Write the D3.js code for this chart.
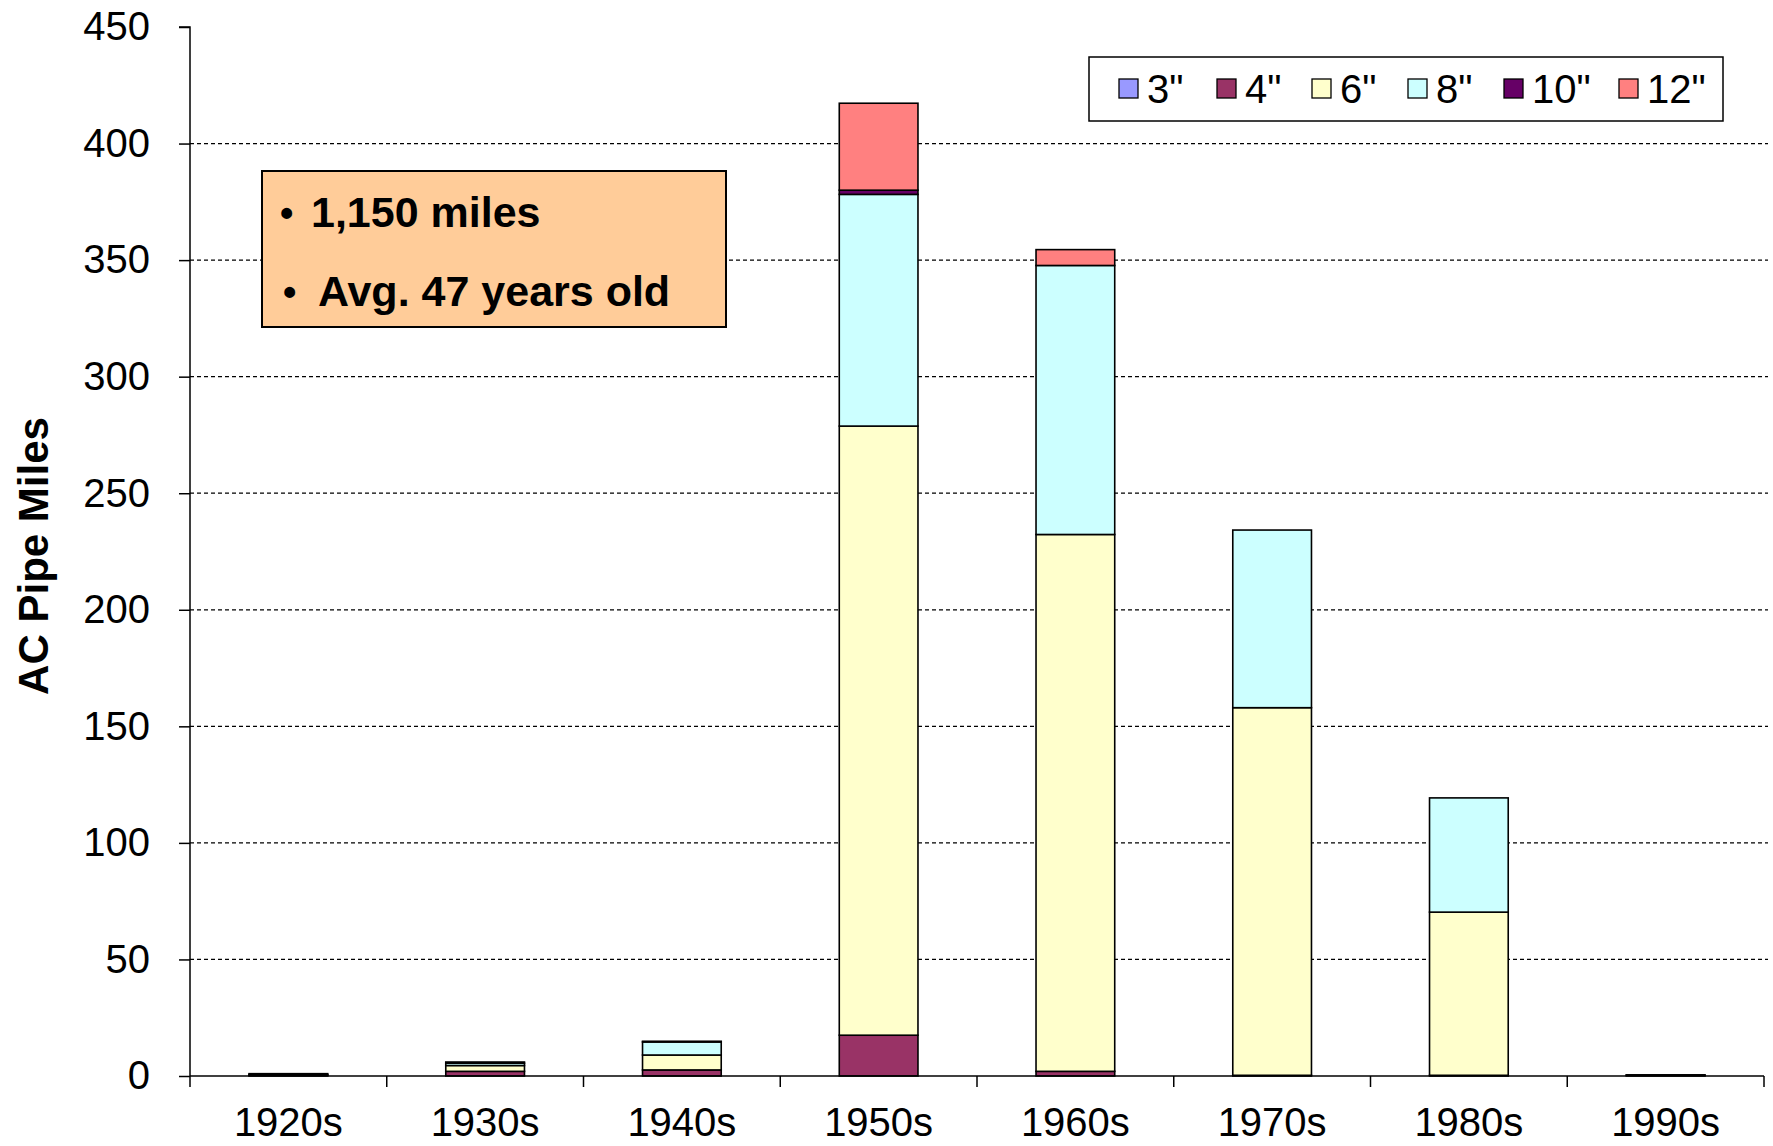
<!DOCTYPE html>
<html><head><meta charset="utf-8">
<script src="https://cdn.jsdelivr.net/npm/d3@7"></script>
<style>
html,body{margin:0;padding:0;background:#fff;}
text{font-family:"Liberation Sans",Arial,sans-serif;}
</style></head>
<body><svg id="c" width="1773" height="1146"></svg>
<script>
const categories = ["1920s","1930s","1940s","1950s","1960s","1970s","1980s","1990s"];
const seriesNames = ['3"','4"','6"','8"','10"','12"'];
const s3  = [0, 0, 0, 0, 0, 0, 0, 0];
const s4  = [0.3, 2, 2.6, 17.5, 2, 0.3, 0.3, 0];
const s6  = [0.3, 2.5, 6.4, 261.3, 230.3, 157.7, 70, 0.3];
const s8  = [0, 1, 5.6, 99.4, 115.4, 76.2, 49, 0];
const s10 = [0.4, 0.5, 0.3, 1.8, 0, 0, 0, 0.2];
const s12 = [0, 0, 0, 37.3, 6.8, 0, 0, 0];
const yTicks = [0,50,100,150,200,250,300,350,400,450];
const colors = ["#9999FF","#993366","#FFFFCC","#CCFFFF","#660066","#FF8080"];
const noteLines = ["1,150 miles","Avg. 47 years old"];

const seriesVals = [s3,s4,s6,s8,s10,s12];
const rows = categories.map((c,i)=>{const r={cat:c}; seriesNames.forEach((n,k)=>r[n]=seriesVals[k][i]); return r;});
const stack = d3.stack().keys(seriesNames)(rows);

const svg = d3.select("#c");
const L=190, R=1764, T=27, B=1076;
const x = d3.scaleBand().domain(categories).range([L,R]).paddingInner(0.6).paddingOuter(0.3);
const xb = d3.scaleBand().domain(categories).range([L,R]);
const y = d3.scaleLinear().domain([0,450]).range([B,T]);

// grid
svg.append("g").selectAll("line").data(yTicks.filter(t=>t>0&&t<450)).join("line")
  .attr("x1",L).attr("x2",R+4).attr("y1",d=>y(d)).attr("y2",d=>y(d))
  .attr("stroke","#000").attr("stroke-width",1.2).attr("stroke-dasharray","4,3");

// bars
svg.append("g").selectAll("g").data(stack).join("g")
  .attr("fill",(d,i)=>colors[i])
  .selectAll("rect").data(d=>d.filter(p=>p[1]-p[0]>0)).join("rect")
  .attr("x",d=>x(d.data.cat)).attr("width",x.bandwidth())
  .attr("y",d=>y(d[1])).attr("height",d=>y(d[0])-y(d[1]))
  .attr("stroke","#000").attr("stroke-width",1.6);

// y axis
const ya = svg.append("g").attr("transform",`translate(${L},0)`)
  .call(d3.axisLeft(y).tickValues(yTicks).tickSize(11).tickPadding(29));
ya.select(".domain").attr("stroke","#000").attr("stroke-width",1.5).attr("d",`M-11,${T}H0V${B}`);
ya.selectAll(".tick line").attr("stroke","#000").attr("stroke-width",1.5);
ya.selectAll("text").attr("font-size",40).attr("fill","#000").attr("font-family",'"Liberation Sans",Arial,sans-serif');

// x axis
const xa = svg.append("g").attr("transform",`translate(0,${B})`);
xa.append("line").attr("x1",L).attr("x2",R).attr("stroke","#000").attr("stroke-width",1.5);
const bounds = categories.map(c=>xb(c)).concat([R]);
xa.selectAll("line.tk").data(bounds).join("line").attr("class","tk")
  .attr("x1",d=>d).attr("x2",d=>d).attr("y1",0).attr("y2",11).attr("stroke","#000").attr("stroke-width",1.5);
xa.selectAll("text").data(categories).join("text")
  .attr("x",d=>xb(d)+xb.bandwidth()/2).attr("y",60).attr("text-anchor","middle")
  .attr("font-size",40).text(d=>d);

// y label
svg.append("text").attr("transform","translate(48,556) rotate(-90)")
  .attr("text-anchor","middle").attr("font-size",42).attr("font-weight","bold").text("AC Pipe Miles");

// legend
const lg = svg.append("g");
lg.append("rect").attr("x",1089).attr("y",57).attr("width",634).attr("height",64)
  .attr("fill","#fff").attr("stroke","#000").attr("stroke-width",1.5);
const legX = [1119,1217,1312,1408,1504,1619];
seriesNames.forEach((n,i)=>{
  lg.append("rect").attr("x",legX[i]).attr("y",79).attr("width",19).attr("height",19)
    .attr("fill",colors[i]).attr("stroke","#000").attr("stroke-width",1.3);
  lg.append("text").attr("x",legX[i]+28).attr("y",103).attr("font-size",40).text(n);
});

// note box
const nb = svg.append("g");
nb.append("rect").attr("x",262).attr("y",171).attr("width",464).attr("height",156)
  .attr("fill","#FFCC99").attr("stroke","#000").attr("stroke-width",2);
nb.append("text").attr("x",280).attr("y",226).attr("font-size",38).attr("font-weight","bold").text("\u2022");
nb.append("text").attr("x",311).attr("y",227).attr("font-size",43).attr("font-weight","bold").text(noteLines[0]);
nb.append("text").attr("x",283).attr("y",305).attr("font-size",38).attr("font-weight","bold").text("\u2022");
nb.append("text").attr("x",318).attr("y",306).attr("font-size",43).attr("font-weight","bold").text(noteLines[1]);
</script></body></html>
